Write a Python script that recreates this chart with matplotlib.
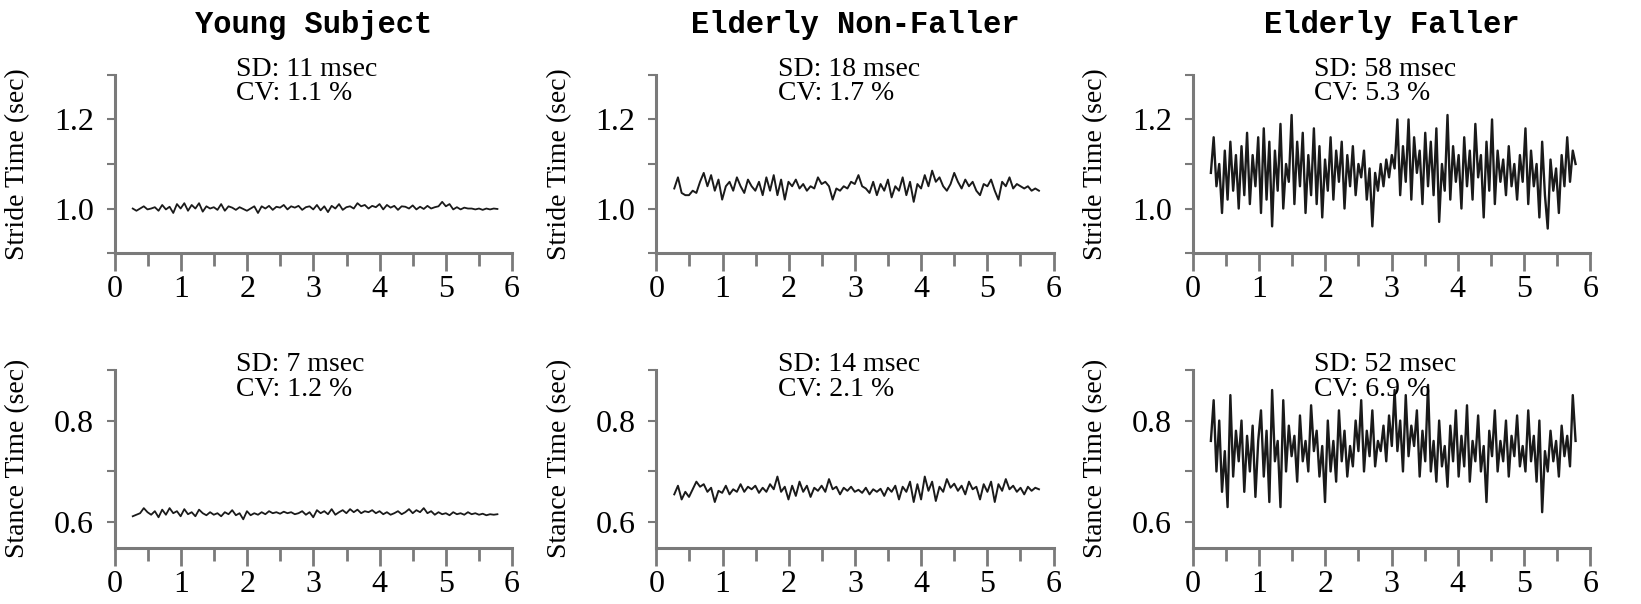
import numpy as np
import matplotlib
matplotlib.use("Agg")
import matplotlib.pyplot as plt
from matplotlib.ticker import MultipleLocator

# group titles and annotation text
groups = ["Young Subject", "Elderly Non-Faller", "Elderly Faller"]
stride_sd = ["SD: 11 msec", "SD: 18 msec", "SD: 58 msec"]
stride_cv = ["CV: 1.1 %", "CV: 1.7 %", "CV: 5.3 %"]
stance_sd = ["SD: 7 msec", "SD: 14 msec", "SD: 52 msec"]
stance_cv = ["CV: 1.2 %", "CV: 2.1 %", "CV: 6.9 %"]

# time span of the recordings (min)
t_first = 0.27
t_last = 5.78

# stride times (sec)
young_stride = [1.0, 0.995, 1.0, 1.005, 0.998, 1.0, 1.003, 0.995, 1.008, 0.998,
                1.004, 0.99, 1.01, 1.0, 1.012, 0.995, 1.008, 1.0, 1.012, 0.993,
                1.005, 1.0, 1.003, 0.997, 1.01, 0.995, 1.005, 1.002, 0.997, 1.003,
                0.999, 0.995, 1.0, 1.005, 0.99, 1.005, 1.0, 1.006, 0.997, 1.004,
                1.002, 1.008, 0.998, 1.005, 1.002, 1.006, 0.997, 1.003, 1.005, 0.998,
                1.008, 0.996, 1.005, 0.992, 1.006, 1.0, 1.01, 0.997, 1.003, 1.005,
                1.0, 1.012, 1.005, 1.008, 1.0, 1.006, 1.003, 1.01, 0.998, 1.008,
                1.002, 1.006, 0.997, 1.005, 1.004, 1.0, 1.007, 0.998, 1.004, 0.999,
                1.006, 1.0, 1.003, 1.005, 1.015, 1.005, 1.01, 0.998, 1.003, 0.998,
                1.002, 1.0, 1.0, 0.998, 1.0, 0.997, 1.0, 0.998, 1.0, 0.999]

nonfaller_stride = [1.045, 1.07, 1.035, 1.03, 1.03, 1.04, 1.035, 1.06, 1.08, 1.05,
                    1.075, 1.04, 1.065, 1.02, 1.05, 1.06, 1.04, 1.07, 1.05, 1.035,
                    1.065, 1.05, 1.04, 1.06, 1.03, 1.07, 1.04, 1.075, 1.03, 1.065,
                    1.02, 1.06, 1.05, 1.065, 1.045, 1.055, 1.04, 1.05, 1.045, 1.07,
                    1.055, 1.06, 1.05, 1.02, 1.045, 1.04, 1.05, 1.045, 1.06, 1.055,
                    1.075, 1.05, 1.045, 1.035, 1.06, 1.03, 1.055, 1.04, 1.065, 1.025,
                    1.05, 1.04, 1.07, 1.03, 1.06, 1.015, 1.055, 1.045, 1.075, 1.05,
                    1.085, 1.06, 1.07, 1.05, 1.04, 1.055, 1.08, 1.06, 1.045, 1.065,
                    1.05, 1.06, 1.04, 1.03, 1.055, 1.05, 1.065, 1.04, 1.02, 1.06,
                    1.05, 1.07, 1.045, 1.055, 1.05, 1.045, 1.05, 1.04, 1.045, 1.04]

faller_stride = [1.08, 1.16, 1.05, 1.10, 0.99, 1.13, 1.02, 1.15, 1.04, 1.12,
                 1.00, 1.14, 1.03, 1.17, 1.01, 1.12, 1.05, 1.16,
                 0.99, 1.18, 1.02, 1.15, 0.96, 1.13, 1.04, 1.19, 1.00, 1.10,
                 1.06, 1.21, 1.01, 1.15, 1.05, 1.17, 0.99, 1.12, 1.03, 1.18,
                 1.01, 1.14, 0.98, 1.11,
                 1.04, 1.16, 1.02, 1.13, 1.06, 1.15, 1.00, 1.12, 1.05, 1.14,
                 1.03, 1.10, 1.07, 1.13, 1.02, 1.09, 0.96, 1.08, 1.04, 1.10,
                 1.05, 1.11, 1.07, 1.12,
                 1.09, 1.20, 1.03, 1.14, 1.06, 1.20, 1.02, 1.16, 1.08, 1.13,
                 1.01, 1.17, 1.05, 1.15, 1.03, 1.18, 0.97, 1.10, 1.04, 1.21,
                 1.02, 1.14, 1.06, 1.12,
                 1.00, 1.16, 1.05, 1.13, 1.02, 1.19, 1.07, 1.12, 0.98, 1.15,
                 1.04, 1.20, 1.01, 1.13, 1.06, 1.11, 1.03, 1.14, 1.05, 1.10,
                 1.02, 1.12, 1.06, 1.18,
                 1.01, 1.13, 1.05, 1.10, 0.98, 1.15, 1.03, 0.955, 1.11, 1.04,
                 1.09, 0.99, 1.12, 1.05, 1.16, 1.06, 1.13, 1.10]

# stance times (sec)
young_stance = [0.612, 0.615, 0.618, 0.628, 0.62, 0.615, 0.622, 0.61, 0.625, 0.615,
                0.628, 0.618, 0.622, 0.612, 0.626, 0.616, 0.62, 0.612, 0.625, 0.618,
                0.614, 0.62, 0.615, 0.618, 0.612, 0.62, 0.616, 0.624, 0.614, 0.618,
                0.606, 0.622, 0.614, 0.618, 0.615, 0.62, 0.616, 0.622, 0.618, 0.62,
                0.617, 0.621, 0.618, 0.62, 0.616, 0.618, 0.622, 0.615, 0.62, 0.61,
                0.624, 0.618, 0.622, 0.616, 0.626, 0.615, 0.62, 0.624, 0.618, 0.626,
                0.62, 0.625, 0.618, 0.622, 0.62, 0.624, 0.618, 0.622, 0.616, 0.62,
                0.615, 0.618, 0.622, 0.616, 0.62, 0.626, 0.618, 0.624, 0.62, 0.628,
                0.618, 0.622, 0.615, 0.62, 0.616, 0.618, 0.614, 0.62, 0.616, 0.618,
                0.615, 0.62, 0.616, 0.618, 0.615, 0.617, 0.614, 0.616, 0.615, 0.616]

nonfaller_stance = [0.655, 0.672, 0.645, 0.66, 0.65, 0.665, 0.68, 0.67, 0.675, 0.66,
                    0.668, 0.64, 0.662, 0.658, 0.672, 0.655, 0.665, 0.66, 0.675, 0.66,
                    0.67, 0.665, 0.672, 0.658, 0.668, 0.66, 0.675, 0.665, 0.69, 0.66,
                    0.67, 0.645, 0.672, 0.652, 0.68, 0.66, 0.672, 0.65, 0.668, 0.662,
                    0.672, 0.66, 0.685, 0.665, 0.67, 0.655, 0.668, 0.662, 0.67, 0.66,
                    0.664, 0.658, 0.668, 0.655, 0.665, 0.66, 0.666, 0.652, 0.668, 0.66,
                    0.672, 0.645, 0.67, 0.66, 0.68, 0.64, 0.675, 0.645, 0.69, 0.662,
                    0.68, 0.642, 0.67, 0.66, 0.685, 0.668, 0.676, 0.662, 0.672, 0.655,
                    0.68, 0.665, 0.67, 0.645, 0.675, 0.66, 0.68, 0.64, 0.675, 0.662,
                    0.685, 0.665, 0.672, 0.66, 0.668, 0.655, 0.67, 0.662, 0.668, 0.665]

faller_stance = [0.76, 0.84, 0.70, 0.80, 0.66, 0.74, 0.63, 0.85, 0.69, 0.78,
                 0.72, 0.80, 0.66, 0.77, 0.70, 0.79, 0.65, 0.76,
                 0.82, 0.69, 0.78, 0.64, 0.86, 0.72, 0.76, 0.63, 0.84, 0.70,
                 0.79, 0.73, 0.77, 0.68, 0.81, 0.72, 0.76, 0.70, 0.83, 0.74,
                 0.78, 0.69, 0.75, 0.64,
                 0.80, 0.70, 0.76, 0.68, 0.82, 0.72, 0.78, 0.69, 0.75, 0.71,
                 0.80, 0.74, 0.84, 0.70, 0.78, 0.73, 0.82, 0.71, 0.76, 0.74,
                 0.79, 0.72, 0.81, 0.75,
                 0.86, 0.74, 0.80, 0.70, 0.85, 0.73, 0.79, 0.75, 0.82, 0.69,
                 0.78, 0.72, 0.87, 0.70, 0.76, 0.68, 0.80, 0.71, 0.75, 0.67,
                 0.79, 0.72, 0.82, 0.69,
                 0.77, 0.71, 0.83, 0.68, 0.76, 0.72, 0.81, 0.70, 0.75, 0.64,
                 0.78, 0.73, 0.82, 0.70, 0.76, 0.72, 0.80, 0.69, 0.77, 0.73,
                 0.81, 0.71, 0.75, 0.70,
                 0.82, 0.72, 0.77, 0.68, 0.80, 0.62, 0.74, 0.70, 0.78, 0.72,
                 0.76, 0.69, 0.79, 0.73, 0.77, 0.71, 0.85, 0.76]

stride_series = [young_stride, nonfaller_stride, faller_stride]
stance_series = [young_stance, nonfaller_stance, faller_stance]
line_widths = [1.3, 1.4, 1.7]

serif = "Liberation Serif"
axis_grey = "#7a7a7a"

fig = plt.figure(figsize=(16.41, 6.04), dpi=100)

lefts = [0.070, 0.400, 0.727]
width = 0.242
rows = [(0.581, 0.295), (0.093, 0.295)]


def style_axis(ax, ylim, yticks, ylabel):
    ax.set_xlim(0, 6)
    ax.set_ylim(*ylim)
    for s in ["top", "right"]:
        ax.spines[s].set_visible(False)
    for s in ["left", "bottom"]:
        ax.spines[s].set_color(axis_grey)
        ax.spines[s].set_linewidth(2.2)
    ax.xaxis.set_major_locator(MultipleLocator(1))
    ax.xaxis.set_minor_locator(MultipleLocator(0.5))
    ax.set_yticks(yticks)
    ax.yaxis.set_minor_locator(MultipleLocator(0.1))
    ax.tick_params(axis="x", which="major", length=13, width=2, color=axis_grey,
                   direction="out", pad=3, labelsize=23)
    ax.tick_params(axis="x", which="minor", length=9, width=2, color=axis_grey,
                   direction="out")
    ax.tick_params(axis="y", which="both", length=6, width=1.5, color=axis_grey,
                   direction="out", pad=9, labelsize=23)
    for lab in ax.get_xticklabels() + ax.get_yticklabels():
        lab.set_fontfamily(serif)
    ax.yaxis.set_major_formatter(matplotlib.ticker.FormatStrFormatter("%.1f"))
    ax.set_ylabel(ylabel, fontsize=20, family=serif)
    ax.yaxis.set_label_coords(-0.213, 0.5)


for i in range(3):
    # stride row
    ax = fig.add_axes([lefts[i], rows[0][0], width, rows[0][1]])
    y = stride_series[i]
    x = np.linspace(t_first, t_last, len(y))
    ax.plot(x, y, color="#1a1a1a", lw=line_widths[i])
    style_axis(ax, (0.9, 1.3), [1.0, 1.2], "Stride Time (sec)")
    ax.set_title(groups[i], family="Liberation Mono", fontweight="bold",
                 fontsize=22, pad=30)
    ax.text(0.305, 1.03, stride_sd[i], transform=ax.transAxes, family=serif,
            fontsize=20, va="center", ha="left", clip_on=False)
    ax.text(0.305, 0.895, stride_cv[i], transform=ax.transAxes, family=serif,
            fontsize=20, va="center", ha="left", clip_on=False)

    # stance row
    ax = fig.add_axes([lefts[i], rows[1][0], width, rows[1][1]])
    y = stance_series[i]
    x = np.linspace(t_first, t_last, len(y))
    ax.plot(x, y, color="#1a1a1a", lw=line_widths[i])
    style_axis(ax, (0.55, 0.9), [0.6, 0.8], "Stance Time (sec)")
    ax.text(0.305, 1.03, stance_sd[i], transform=ax.transAxes, family=serif,
            fontsize=20, va="center", ha="left", clip_on=False)
    ax.text(0.305, 0.89, stance_cv[i], transform=ax.transAxes, family=serif,
            fontsize=20, va="center", ha="left", clip_on=False)

fig.savefig("out.png", dpi=100)
